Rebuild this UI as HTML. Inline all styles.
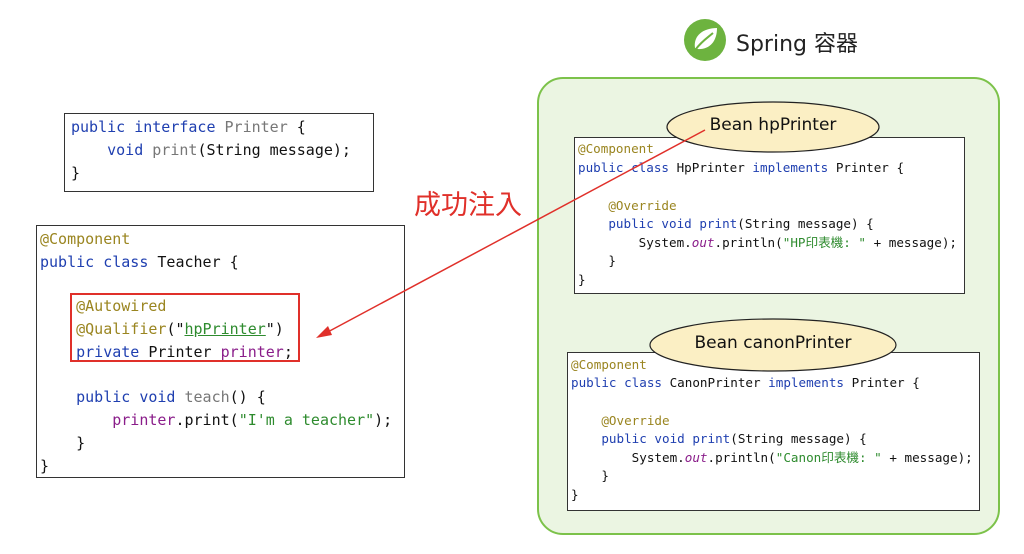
<!DOCTYPE html>
<html><head><meta charset="utf-8"><style>
body{margin:0;width:1024px;height:554px;background:#fff;position:relative;overflow:hidden;font-family:"DejaVu Sans Mono","Liberation Mono","Noto Sans CJK TC",monospace}
.b{position:absolute;border:1px solid #333;background:#fff;box-sizing:border-box}
.l{position:absolute;white-space:pre;color:#111;line-height:18px}
.L .l{font-size:15px}
.R .l{font-size:12.6px;line-height:16px}
.a{color:#9a8520}.k{color:#1f3fb0}.g{color:#777}.s{color:#2e8b2e}.p{color:#8a1d8a}.o{color:#8a1d8a;font-style:italic}
</style></head><body>
<div style="position:absolute;left:537px;top:77px;width:463px;height:458px;border:2px solid #7cc24a;border-radius:26px;background:#ebf5e2;box-sizing:border-box"></div>
<svg style="position:absolute;left:683px;top:18px" width="46" height="44"><circle cx="22" cy="22" r="21" fill="#6db33f"/><path d="M12 30 C10 18 20 10 34 10 C34 24 26 32 14 31 Z" fill="#fff"/><path d="M13 31 C18 24 24 20 30 15" stroke="#6db33f" stroke-width="2" fill="none"/></svg>
<div style="position:absolute;left:736px;top:26px;font:22px 'DejaVu Sans','Noto Sans CJK TC',sans-serif;color:#222">Spring 容器</div>

<div class="b L" style="left:64px;top:113px;width:310px;height:79px">
<div class="l" style="left:6px;top:4px"><span class="k">public interface</span> <span class="g">Printer</span> {</div>
<div class="l" style="left:6px;top:27px">    <span class="k">void</span> <span class="g">print</span>(String message);</div>
<div class="l" style="left:6px;top:50px">}</div>
</div>

<div class="b L" style="left:36px;top:225px;width:369px;height:253px">
<div class="l" style="left:3px;top:4px"><span class="a">@Component</span></div>
<div class="l" style="left:3px;top:27px"><span class="k">public class</span> Teacher {</div>
<div class="l" style="left:3px;top:71px">    <span class="a">@Autowired</span></div>
<div class="l" style="left:3px;top:94px">    <span class="a">@Qualifier</span>("<span class="s" style="text-decoration:underline">hpPrinter</span>")</div>
<div class="l" style="left:3px;top:117px">    <span class="k">private</span> Printer <span class="p">printer</span>;</div>
<div class="l" style="left:3px;top:162px">    <span class="k">public void</span> <span class="g">teach</span>() {</div>
<div class="l" style="left:3px;top:185px">        <span class="p">printer</span>.print(<span class="s">"I'm a teacher"</span>);</div>
<div class="l" style="left:3px;top:208px">    }</div>
<div class="l" style="left:3px;top:231px">}</div>
</div>
<div style="position:absolute;left:70px;top:293px;width:230px;height:69px;border:2px solid #e0302a;box-sizing:border-box"></div>

<div class="b R" style="left:574px;top:137px;width:391px;height:157px">
<div class="l" style="left:3px;top:3px"><span class="a">@Component</span></div>
<div class="l" style="left:3px;top:22px"><span class="k">public class</span> HpPrinter <span class="k">implements</span> Printer {</div>
<div class="l" style="left:3px;top:60px">    <span class="a">@Override</span></div>
<div class="l" style="left:3px;top:78px">    <span class="k">public void print</span>(String message) {</div>
<div class="l" style="left:3px;top:97px">        System.<span class="o">out</span>.println(<span class="s">"HP印表機: "</span> + message);</div>
<div class="l" style="left:3px;top:115px">    }</div>
<div class="l" style="left:3px;top:134px">}</div>
</div>
<svg style="position:absolute;left:0;top:0" width="1024" height="554"><ellipse cx="773" cy="127" rx="106" ry="25" fill="#fbefc4" stroke="#222" stroke-width="1.2"/></svg>
<div style="position:absolute;left:667px;top:115px;width:212px;text-align:center;font:17px 'DejaVu Sans',sans-serif;color:#111">Bean hpPrinter</div>

<div class="b R" style="left:567px;top:352px;width:413px;height:159px">
<div class="l" style="left:3px;top:4px"><span class="a">@Component</span></div>
<div class="l" style="left:3px;top:22px"><span class="k">public class</span> CanonPrinter <span class="k">implements</span> Printer {</div>
<div class="l" style="left:3px;top:60px">    <span class="a">@Override</span></div>
<div class="l" style="left:3px;top:78px">    <span class="k">public void print</span>(String message) {</div>
<div class="l" style="left:3px;top:97px">        System.<span class="o">out</span>.println(<span class="s">"Canon印表機: "</span> + message);</div>
<div class="l" style="left:3px;top:115px">    }</div>
<div class="l" style="left:3px;top:134px">}</div>
</div>
<svg style="position:absolute;left:0;top:0" width="1024" height="554"><ellipse cx="773" cy="345" rx="123" ry="26" fill="#fbefc4" stroke="#222" stroke-width="1.2"/>
<line x1="705" y1="130" x2="324" y2="334" stroke="#e0302a" stroke-width="1.5"/>
<polygon points="316,338 328,326 332,335" fill="#e0302a"/></svg>
<div style="position:absolute;left:650px;top:333px;width:246px;text-align:center;font:17px 'DejaVu Sans',sans-serif;color:#111">Bean canonPrinter</div>
<div style="position:absolute;left:414px;top:183px;font:27px 'Noto Sans CJK TC',sans-serif;color:#e0302a">成功注入</div>
</body></html>
